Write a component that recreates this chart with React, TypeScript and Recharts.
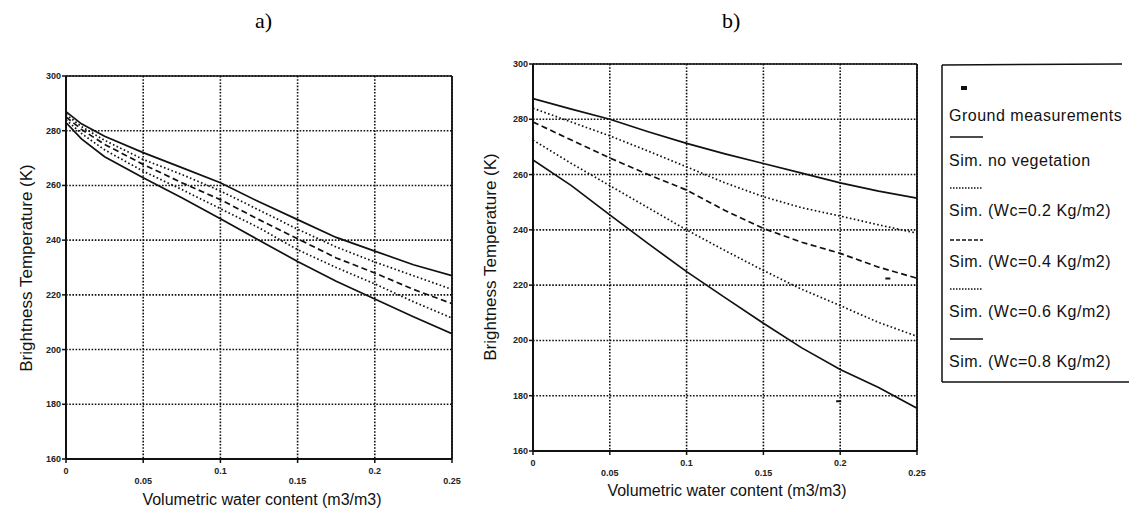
import React from 'react';
import { ComposedChart, Line, Scatter, XAxis, YAxis, CartesianGrid, ReferenceLine } from 'recharts';

// x positions (volumetric water content, m3/m3)
const moistureA = [0, 0.01, 0.025, 0.05, 0.075, 0.1, 0.125, 0.15, 0.175, 0.2, 0.225, 0.25];
const moistureB = [0, 0.025, 0.05, 0.075, 0.1, 0.125, 0.15, 0.175, 0.2, 0.225, 0.25];

// panel a) brightness temperature (K)
const noVegA = [283, 277, 270.5, 262.8, 255.5, 247.8, 240, 232.2, 225, 218.5, 212, 205.8];
const wc02A = [284, 279, 273, 265.2, 258.5, 251.5, 244.5, 236.5, 230, 224, 217.5, 211.5];
const wc04A = [285, 280.5, 275, 267.7, 261, 254.8, 247.5, 240.5, 233.5, 228, 222, 216.8];
const wc06A = [286, 281.5, 276.5, 269.5, 264, 258, 251, 244, 237.5, 232, 227, 222];
const wc08A = [287, 282.5, 278, 272, 266.5, 261, 254, 247.5, 241, 236, 231, 227];

// panel b) brightness temperature (K)
const noVegB = [265.3, 256, 245.4, 235, 224.9, 215.5, 206.2, 197.3, 189.5, 183, 175.5];
const wc02B = [272.5, 264, 256, 248, 240, 232.5, 225.3, 218.5, 212.6, 206.5, 201.5];
const wc04B = [279, 272.5, 266, 260, 254.4, 247, 240.5, 235.5, 231.5, 226.5, 222.5];
const wc06B = [284, 279, 274, 268.5, 262.8, 257, 252, 248, 245, 241.8, 238.8];
const wc08B = [287.5, 283.7, 280, 275.5, 271.3, 267.5, 264, 260.5, 257, 254, 251.5];

// ground measurements (panel b)
const groundX = [0.199, 0.231];
const groundY = [178, 222.4];

const xTicks = [0, 0.05, 0.1, 0.15, 0.2, 0.25];
const yTicks = [160, 180, 200, 220, 240, 260, 280, 300];

const legendLabels = [
  'Ground measurements',
  'Sim. no vegetation',
  'Sim. (Wc=0.2 Kg/m2)',
  'Sim. (Wc=0.4 Kg/m2)',
  'Sim. (Wc=0.6 Kg/m2)',
  'Sim. (Wc=0.8 Kg/m2)',
];

const FONT = '"Liberation Sans", Arial, sans-serif';
const INK = '#111';
const DOT = '1.6 2.4';
const DASH = '6 3.5';

const seriesStyle = [
  { key: 'noVeg', dash: undefined as string | undefined },
  { key: 'wc02', dash: DOT },
  { key: 'wc04', dash: DASH },
  { key: 'wc06', dash: DOT },
  { key: 'wc08', dash: undefined as string | undefined },
];

const rowsA = moistureA.map((x, i) => ({
  x, noVeg: noVegA[i], wc02: wc02A[i], wc04: wc04A[i], wc06: wc06A[i], wc08: wc08A[i],
}));
const rowsB = moistureB.map((x, i) => ({
  x, noVeg: noVegB[i], wc02: wc02B[i], wc04: wc04B[i], wc06: wc06B[i], wc08: wc08B[i],
}));
const groundRows = groundX.map((x, i) => ({ x, ground: groundY[i] }));

const XTick = (props: any) => {
  const { x, y, payload } = props;
  const odd = Math.round(payload.value / 0.05) % 2 === 1;
  return (
    <text x={x} y={y + (odd ? 18 : 8)} textAnchor="middle" dominantBaseline="central"
      fontSize={9} fontWeight="bold" fill="#222" fontFamily={FONT}>
      {payload.value}
    </text>
  );
};

const YTick = (props: any) => {
  const { x, y, payload } = props;
  return (
    <text x={x} y={y} textAnchor="end" dominantBaseline="central"
      fontSize={9} fontWeight="bold" fill="#222" fontFamily={FONT}>
      {payload.value}
    </text>
  );
};

const GroundMark = (props: any) => {
  const { cx, cy } = props;
  return <rect x={cx - 2.5} y={cy - 1} width={5} height={2} fill={INK} />;
};

type PanelProps = {
  rows: any[];
  width: number;
  margin: { top: number; right: number; bottom: number; left: number };
  ground?: any[];
};

const Y_AXIS_W = 30;
const X_AXIS_H = 30;

const Panel = ({ rows, width, margin, ground }: PanelProps) => (
  <ComposedChart width={width} height={511} data={rows}
    margin={{ ...margin, left: margin.left - Y_AXIS_W, bottom: margin.bottom - X_AXIS_H }}>
    <CartesianGrid stroke={INK} strokeWidth={1.6} strokeDasharray="1.6 1.6" />
    <XAxis dataKey="x" type="number" domain={[0, 0.25]} ticks={xTicks} height={X_AXIS_H}
      axisLine={{ stroke: INK, strokeWidth: 2 }} tickLine={{ stroke: INK, strokeWidth: 1.5 }} tickSize={4}
      tickMargin={0} tick={<XTick />} interval={0} allowDataOverflow />
    <YAxis type="number" domain={[160, 300]} ticks={yTicks} width={Y_AXIS_W}
      axisLine={{ stroke: INK, strokeWidth: 2 }} tickLine={{ stroke: INK, strokeWidth: 1.5 }} tickSize={4}
      tickMargin={1} tick={<YTick />} interval={0} allowDataOverflow />
    <ReferenceLine y={300} stroke={INK} strokeWidth={1.6} />
    <ReferenceLine x={0.25} stroke={INK} strokeWidth={1.8} />
    {seriesStyle.map((s) => (
      <Line key={s.key} dataKey={s.key} type="linear" stroke={INK} strokeWidth={1.7}
        strokeDasharray={s.dash} dot={false} activeDot={false} isAnimationActive={false} />
    ))}
    {ground && (
      <Scatter data={ground} dataKey="ground" shape={<GroundMark />} isAnimationActive={false} />
    )}
  </ComposedChart>
);

const abs = (left: number, top: number): React.CSSProperties => ({ position: 'absolute', left, top });

const AxisTitle = ({ x, y, text }: { x: number; y: number; text: string }) => (
  <div style={{ ...abs(x - 200, y - 10), width: 400, textAlign: 'center', fontSize: 16, fontFamily: FONT, color: INK, lineHeight: '20px' }}>
    {text}
  </div>
);

const YTitle = ({ x, y }: { x: number; y: number }) => (
  <div style={{ ...abs(x - 150, y - 10), width: 300, textAlign: 'center', fontSize: 17, fontFamily: FONT, color: INK, lineHeight: '20px', transform: 'rotate(-90deg)' }}>
    Brightness Temperature (K)
  </div>
);

const Legend = () => {
  const symbolY = [137, 188, 240, 289, 339];
  const textY = [115, 160, 210, 261, 311, 361];
  return (
    <svg style={abs(940, 60)} width={189} height={330}>
      <g transform="translate(-940,-60)">
        <line x1={942} y1={65} x2={1122} y2={64} stroke={INK} strokeWidth={1.5} />
        <line x1={942} y1={65} x2={942} y2={382} stroke={INK} strokeWidth={1.5} />
        <line x1={942} y1={382} x2={1129} y2={382} stroke={INK} strokeWidth={1.5} />
        <rect x={961} y={86} width={6} height={4} fill={INK} />
        {seriesStyle.map((s, i) => (
          <line key={s.key} x1={950} x2={983} y1={symbolY[i]} y2={symbolY[i]} stroke={INK}
            strokeWidth={1.3} strokeDasharray={s.dash ? (s.dash === DASH ? '4 2' : '1.5 1.5') : undefined} />
        ))}
        {legendLabels.map((t, i) => (
          <text key={t} x={949} y={textY[i]} dominantBaseline="central" fontSize={16}
            letterSpacing={0.5} fontFamily={FONT} fill={INK}>
            {t}
          </text>
        ))}
      </g>
    </svg>
  );
};

export default function App() {
  return (
    <div style={{ position: 'absolute', left: 0, top: 0, width: 1129, height: 511, background: '#fff', overflow: 'hidden' }}>
      <div style={{ ...abs(255, 8), fontFamily: '"Liberation Serif", "Times New Roman", serif', fontSize: 22 }}>a)</div>
      <div style={{ ...abs(722, 8), fontFamily: '"Liberation Serif", "Times New Roman", serif', fontSize: 22 }}>b)</div>

      <div style={abs(0, 0)}>
        <Panel rows={rowsA} width={470} margin={{ top: 76, left: 66, right: 18, bottom: 52 }} />
      </div>
      <div style={abs(480, 0)}>
        <Panel rows={rowsB} width={460} margin={{ top: 64, left: 53, right: 23, bottom: 60 }} ground={groundRows} />
      </div>

      <YTitle x={27} y={268} />
      <YTitle x={491} y={257} />
      <AxisTitle x={262} y={500} text="Volumetric water content (m3/m3)" />
      <AxisTitle x={727} y={491} text="Volumetric water content (m3/m3)" />

      <Legend />
    </div>
  );
}
